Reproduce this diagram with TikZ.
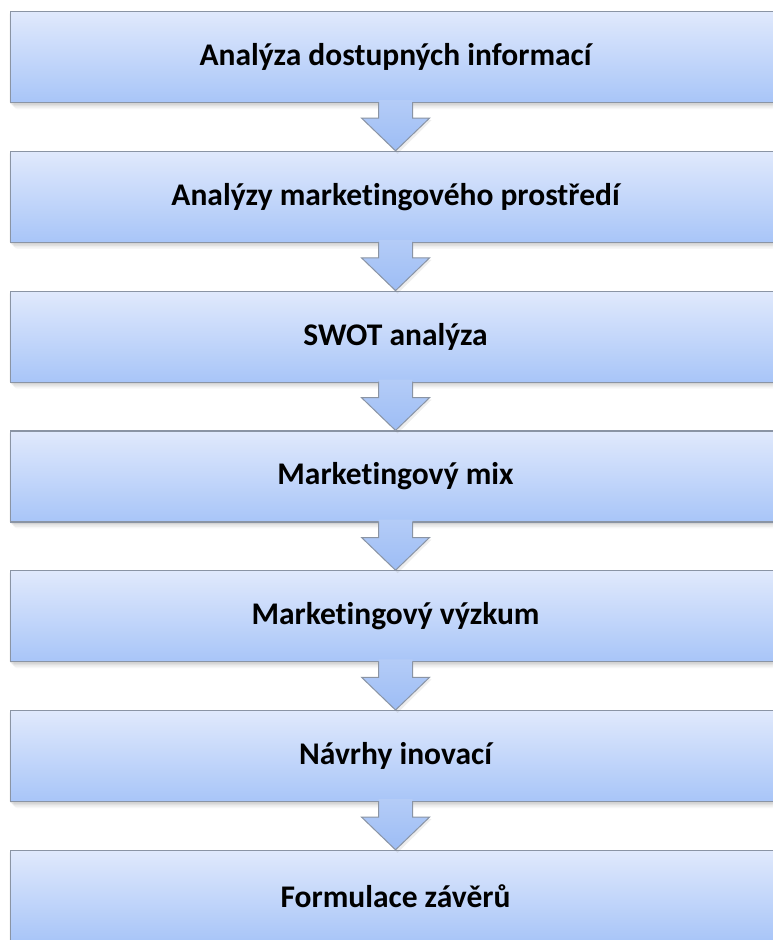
\documentclass[tikz,border=0pt]{standalone}
\usepackage{fontspec}
\setmainfont[Ligatures=NoCommon]{Carlito}
\usetikzlibrary{calc}
\definecolor{boxtop}{HTML}{E0E9FC}
\definecolor{boxbot}{HTML}{A8C5F8}
\definecolor{arrowtop}{HTML}{B4CCF7}
\definecolor{arrowbot}{HTML}{9DBDF5}
\definecolor{boxline}{HTML}{8A94A4}
\definecolor{shadowc}{HTML}{6E6E6E}
\tikzset{
  stepbox/.style={rectangle, minimum width=770pt, minimum height=91pt,
    anchor=north west, inner sep=0pt, top color=boxtop, bottom color=boxbot,
    draw=boxline, line width=1.1pt, font=\fontsize{31.5}{36}\selectfont\bfseries},
  flowarrow/.style={top color=arrowtop, bottom color=arrowbot},
  arrowline/.style={draw=boxline, line width=1pt, line join=miter},
}
\begin{document}
\begin{tikzpicture}[x=1pt,y=-1pt]
\useasboundingbox (0,0) rectangle (772,940);
\fill[white] (0,0) rectangle (772,940);
% soft drop shadows under each step
\foreach \i in {0,...,6}{
  \pgfmathsetmacro{\top}{11+139.8*\i}
  \foreach \s/\o in {6/0.05,4.5/0.07,3/0.09,1.5/0.12}{
    \fill[shadowc, opacity=\o, rounded corners=3pt]
      (10+\s-2, \top+\s-1) rectangle (780+\s, \top+91+\s+1);
  }
}
% steps
\node[stepbox] (b1) at (10,11) {Analýza dostupných informací};
\node[stepbox] (b2) at (10,150.8) {Analýzy marketingového prostředí};
\node[stepbox] (b3) at (10,290.6) {SWOT analýza};
\node[stepbox] (b4) at (10,430.4) {Marketingový mix};
\node[stepbox] (b5) at (10,570.2) {Marketingový výzkum};
\node[stepbox] (b6) at (10,710) {Návrhy inovací};
\node[stepbox] (b7) at (10,849.8) {Formulace závěrů};
% arrows between consecutive steps
\foreach \a/\b in {b1/b2,b2/b3,b3/b4,b4/b5,b5/b6,b6/b7}{
  \coordinate (s1) at ($(\a.south)+(-17,-3)$);
  \coordinate (s2) at ($(\a.south)+(-17,15)$);
  \coordinate (h1) at ($(\a.south)+(-34,15)$);
  \coordinate (tip) at (\b.north);
  \coordinate (h2) at ($(\a.south)+(34,15)$);
  \coordinate (s3) at ($(\a.south)+(17,15)$);
  \coordinate (s4) at ($(\a.south)+(17,-3)$);
  \fill[shadowc, opacity=0.12] ($(s2)+(2,2)$) -- ($(h1)+(2,2)$) -- ($(tip)+(2,3)$) -- ($(h2)+(2,2)$) -- ($(s3)+(2,2)$) -- cycle;
  \shade[flowarrow] (s1) -- (s2) -- (h1) -- (tip) -- (h2) -- (s3) -- (s4) -- cycle;
  \draw[arrowline] ($(s1)+(0,2)$) -- (s2) -- (h1) -- (tip) -- (h2) -- (s3) -- ($(s4)+(0,2)$);
}
\end{tikzpicture}
\end{document}
